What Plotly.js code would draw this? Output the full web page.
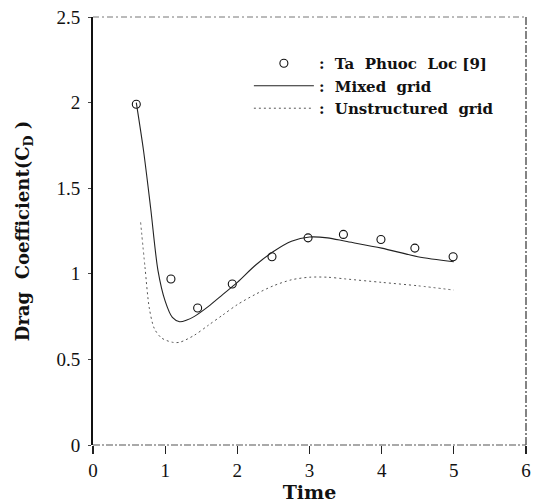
<!DOCTYPE html>
<html>
<head>
<meta charset="utf-8">
<script src="https://cdn.plot.ly/plotly-3.0.1.min.js"></script>
<style>html,body{margin:0;padding:0;background:#fff;}#chart{width:539px;height:503px;}</style>
</head>
<body>
<div id="chart"></div>
<script>
// Reference data: Ta Phuoc Loc [9]
const refTime = [0.6, 1.08, 1.45, 1.93, 2.48, 2.98, 3.47, 3.99, 4.46, 4.99];
const refCd   = [1.99, 0.97, 0.80, 0.94, 1.10, 1.21, 1.23, 1.20, 1.15, 1.10];

// Mixed grid
const mixedTime = [0.6, 0.7, 0.8, 0.9, 1.0, 1.1, 1.2, 1.3, 1.4, 1.6, 1.8, 2.0, 2.25, 2.5, 2.75, 3.0, 3.25, 3.5, 4.0, 4.5, 5.0];
const mixedCd   = [2.0, 1.72, 1.38, 1.02, 0.84, 0.745, 0.72, 0.73, 0.75, 0.81, 0.88, 0.95, 1.05, 1.13, 1.19, 1.215, 1.21, 1.19, 1.15, 1.10, 1.07];

// Unstructured grid
const unstrTime = [0.66, 0.72, 0.78, 0.85, 0.95, 1.1, 1.2, 1.4, 1.6, 1.8, 2.0, 2.25, 2.5, 2.75, 3.0, 3.25, 3.5, 4.0, 4.5, 5.0];
const unstrCd   = [1.30, 1.04, 0.80, 0.68, 0.625, 0.60, 0.60, 0.64, 0.70, 0.76, 0.82, 0.88, 0.93, 0.965, 0.98, 0.98, 0.97, 0.95, 0.93, 0.905];

const xTicks = [0, 1, 2, 3, 4, 5, 6];
const yTicks = [0, 0.5, 1, 1.5, 2, 2.5];
const yTickText = ['0', '0.5', '1', '1.5', '2', '2.5'];

const serif = 'Liberation Serif, DejaVu Serif, serif';
const wideSerif = 'DejaVu Serif, Liberation Serif, serif';

const traces = [
  {
    x: refTime, y: refCd, mode: 'markers', type: 'scatter',
    name: ':  Ta  Phuoc  Loc [9]',
    marker: {symbol: 'circle-open', size: 8, color: '#111', line: {width: 1.1, color: '#111'}}
  },
  {
    x: mixedTime, y: mixedCd, mode: 'lines', type: 'scatter',
    name: ':  Mixed  grid',
    line: {color: '#222', width: 1.1, shape: 'spline', smoothing: 0.8}
  },
  {
    x: unstrTime, y: unstrCd, mode: 'lines', type: 'scatter',
    name: ':  Unstructured  grid',
    line: {color: '#555', width: 1, dash: '2px,3px', shape: 'spline', smoothing: 0.8}
  }
];

const layout = {
  width: 539, height: 503,
  margin: {l: 93, r: 13, t: 17, b: 58},
  paper_bgcolor: '#fff', plot_bgcolor: '#fff',
  font: {family: serif, color: '#111', size: 16},
  showlegend: true,
  legend: {
    x: 0.36, y: 0.93, xanchor: 'left', yanchor: 'top',
    bgcolor: 'rgba(0,0,0,0)', borderwidth: 0,
    itemwidth: 60,
    font: {family: wideSerif, size: 15, color: '#111', weight: 'bold'},
    tracegroupgap: 0
  },
  xaxis: {
    range: [0, 6], tickvals: xTicks, ticktext: xTicks.map(String),
    ticks: 'outside', ticklen: 8, tickwidth: 1.2, tickcolor: '#222',
    showgrid: false, zeroline: false, showline: false,
    tickfont: {family: serif, size: 19, color: '#111'},
    title: {text: '<b>Time</b>', font: {family: wideSerif, size: 19, color: '#111'}, standoff: 4}
  },
  yaxis: {
    range: [0, 2.5], tickvals: yTicks, ticktext: yTickText,
    ticks: 'outside', ticklen: 3, tickwidth: 1, tickcolor: '#444',
    ticklabelstandoff: 4,
    showgrid: false, zeroline: false, showline: true, linecolor: '#111', linewidth: 2,
    tickfont: {family: serif, size: 19, color: '#111'},
    title: {text: '<b>Drag  Coefficient(C<sub>D</sub> )</b>', font: {family: wideSerif, size: 18, color: '#111'}, standoff: 22}
  },
  shapes: [
    {type: 'line', xref: 'paper', yref: 'paper', x0: 0, x1: 1, y0: 1, y1: 1, line: {color: '#777', width: 1, dash: '6px,3px,2px,3px'}},
    {type: 'line', xref: 'paper', yref: 'paper', x0: 1, x1: 1, y0: 0, y1: 1, line: {color: '#333', width: 1.2, dash: '8px,2px,2px,2px'}},
    {type: 'line', xref: 'paper', yref: 'paper', x0: 0, x1: 1, y0: 0, y1: 0, line: {color: '#555', width: 1.2, dash: '7px,2px,2px,2px'}}
  ]
};

Plotly.newPlot('chart', traces, layout, {displayModeBar: false, staticPlot: true});
</script>
</body>
</html>
